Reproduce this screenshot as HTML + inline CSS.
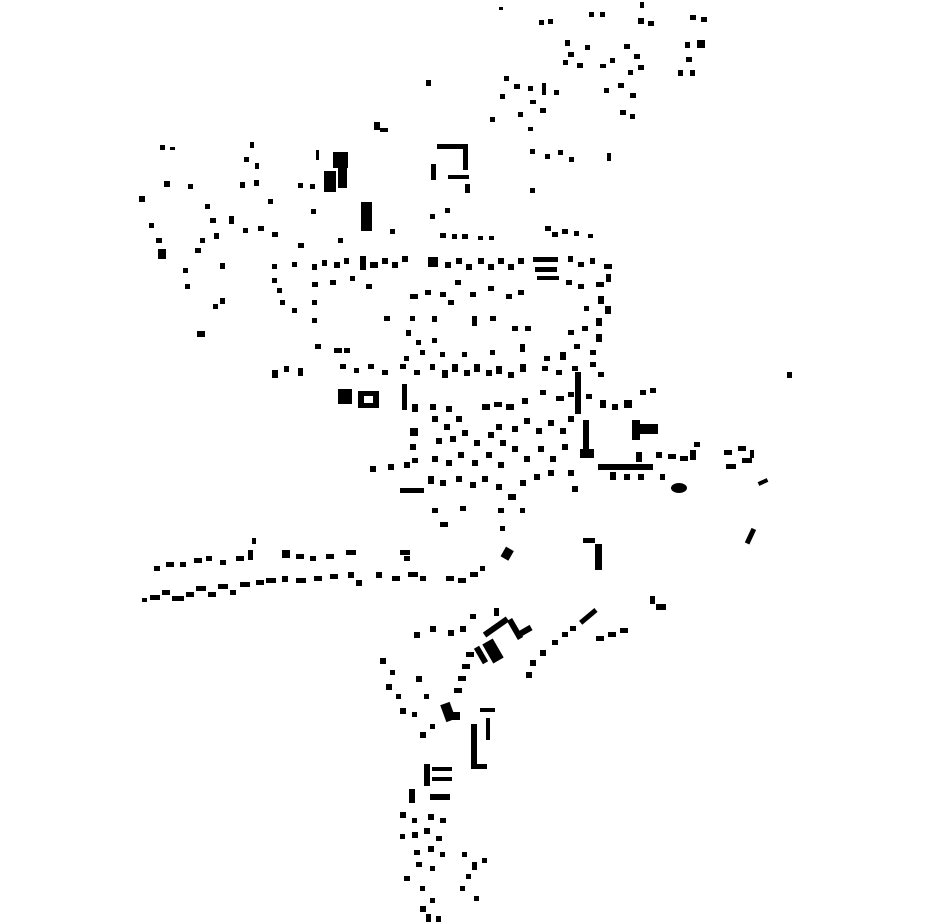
<!DOCTYPE html>
<html><head><meta charset="utf-8"><style>html,body{margin:0;padding:0;background:#fff}svg{display:block}</style></head>
<body>
<svg width="930" height="924" viewBox="0 0 930 924" xmlns="http://www.w3.org/2000/svg">
<rect width="930" height="924" fill="#fff"/>
<g fill="#000">
<!-- top -->
<rect x="499" y="7" width="4" height="3"/><rect x="539" y="20" width="5" height="5"/><rect x="548" y="19" width="5" height="5"/>
<rect x="589" y="12" width="5" height="5"/><rect x="600" y="12" width="5" height="5"/>
<rect x="640" y="2" width="4" height="6"/><rect x="638" y="18" width="6" height="6"/><rect x="648" y="21" width="6" height="5"/>
<rect x="690" y="15" width="6" height="5"/><rect x="701" y="17" width="6" height="5"/>
<rect x="565" y="40" width="5" height="6"/><rect x="568" y="52" width="6" height="5"/><rect x="563" y="60" width="5" height="5"/><rect x="577" y="63" width="6" height="5"/>
<rect x="585" y="45" width="5" height="5"/><rect x="600" y="64" width="6" height="4"/><rect x="610" y="58" width="5" height="5"/>
<rect x="624" y="44" width="6" height="5"/><rect x="634" y="54" width="6" height="5"/><rect x="638" y="65" width="6" height="5"/><rect x="628" y="70" width="5" height="5"/>
<rect x="685" y="42" width="5" height="6"/><rect x="697" y="40" width="8" height="8"/><rect x="686" y="57" width="6" height="5"/><rect x="678" y="70" width="5" height="6"/><rect x="690" y="70" width="5" height="6"/>
<rect x="426" y="80" width="5" height="6"/>
<rect x="504" y="76" width="5" height="5"/><rect x="514" y="84" width="6" height="5"/><rect x="500" y="94" width="5" height="5"/><rect x="528" y="86" width="5" height="5"/>
<rect x="542" y="83" width="4" height="12"/><rect x="554" y="90" width="5" height="5"/><rect x="530" y="100" width="6" height="4"/><rect x="540" y="108" width="6" height="5"/>
<rect x="518" y="112" width="5" height="5"/><rect x="490" y="117" width="5" height="5"/><rect x="528" y="127" width="5" height="4"/>
<rect x="604" y="88" width="5" height="5"/><rect x="618" y="83" width="6" height="5"/><rect x="630" y="93" width="6" height="5"/><rect x="620" y="110" width="6" height="5"/><rect x="630" y="114" width="5" height="5"/>
<rect x="374" y="122" width="6" height="8"/><rect x="380" y="128" width="8" height="4"/>
<!-- upper left -->
<rect x="160" y="145" width="5" height="5"/><rect x="170" y="147" width="5" height="3"/>
<rect x="250" y="142" width="4" height="6"/><rect x="244" y="157" width="5" height="5"/><rect x="255" y="163" width="4" height="6"/><rect x="240" y="182" width="5" height="6"/><rect x="254" y="180" width="5" height="6"/>
<rect x="333" y="152" width="15" height="16"/><rect x="324" y="171" width="12" height="21"/><rect x="338" y="168" width="9" height="20"/><rect x="316" y="150" width="3" height="10"/>
<rect x="437" y="144" width="30" height="5"/><rect x="463" y="144" width="5" height="26"/><rect x="431" y="164" width="5" height="16"/><rect x="448" y="175" width="21" height="4"/><rect x="465" y="184" width="5" height="9"/>
<rect x="530" y="149" width="5" height="5"/><rect x="545" y="154" width="5" height="5"/><rect x="558" y="150" width="5" height="5"/><rect x="569" y="157" width="5" height="5"/><rect x="607" y="153" width="4" height="8"/>
<rect x="530" y="188" width="5" height="5"/>
<rect x="139" y="196" width="6" height="6"/><rect x="164" y="181" width="6" height="6"/><rect x="188" y="184" width="5" height="5"/><rect x="158" y="249" width="8" height="10"/><rect x="156" y="238" width="6" height="5"/><rect x="149" y="223" width="5" height="5"/>
<rect x="361" y="202" width="11" height="29"/>
<rect x="310" y="184" width="5" height="5"/><rect x="298" y="183" width="5" height="5"/><rect x="268" y="199" width="5" height="5"/><rect x="205" y="204" width="5" height="5"/>
<rect x="210" y="218" width="6" height="5"/><rect x="229" y="216" width="5" height="8"/><rect x="243" y="228" width="5" height="5"/><rect x="258" y="226" width="6" height="5"/><rect x="272" y="232" width="6" height="5"/>
<rect x="200" y="238" width="5" height="5"/><rect x="195" y="248" width="6" height="5"/><rect x="214" y="233" width="5" height="6"/><rect x="220" y="263" width="5" height="6"/>
<rect x="183" y="268" width="5" height="5"/><rect x="185" y="284" width="5" height="5"/><rect x="220" y="298" width="5" height="6"/><rect x="213" y="304" width="5" height="5"/><rect x="197" y="331" width="8" height="6"/>
<rect x="390" y="229" width="5" height="5"/><rect x="298" y="243" width="6" height="5"/><rect x="338" y="238" width="5" height="5"/><rect x="311" y="209" width="5" height="5"/>
<rect x="430" y="214" width="5" height="5"/><rect x="445" y="208" width="5" height="5"/><rect x="440" y="233" width="6" height="5"/><rect x="452" y="234" width="5" height="5"/><rect x="462" y="234" width="6" height="5"/><rect x="478" y="236" width="5" height="4"/><rect x="489" y="236" width="5" height="4"/>
<rect x="545" y="226" width="6" height="5"/><rect x="552" y="232" width="6" height="5"/><rect x="562" y="229" width="6" height="5"/><rect x="574" y="231" width="5" height="5"/><rect x="588" y="234" width="5" height="4"/>
<!-- band y 255-300 -->
<rect x="272" y="264" width="5" height="5"/><rect x="272" y="278" width="5" height="5"/><rect x="277" y="288" width="5" height="5"/><rect x="292" y="262" width="5" height="5"/><rect x="312" y="264" width="5" height="6"/>
<rect x="322" y="260" width="5" height="6"/><rect x="334" y="262" width="6" height="6"/><rect x="344" y="258" width="5" height="6"/><rect x="360" y="256" width="6" height="14"/><rect x="370" y="262" width="8" height="6"/>
<rect x="382" y="258" width="6" height="6"/><rect x="392" y="262" width="6" height="6"/><rect x="402" y="256" width="6" height="6"/><rect x="428" y="257" width="10" height="10"/>
<rect x="445" y="262" width="6" height="6"/><rect x="456" y="258" width="6" height="6"/><rect x="466" y="264" width="6" height="6"/><rect x="478" y="258" width="6" height="6"/><rect x="488" y="264" width="6" height="6"/>
<rect x="498" y="258" width="6" height="6"/><rect x="508" y="264" width="6" height="6"/><rect x="518" y="258" width="6" height="6"/>
<rect x="533" y="257" width="25" height="5"/><rect x="535" y="267" width="22" height="5"/><rect x="537" y="276" width="22" height="4"/>
<rect x="568" y="256" width="5" height="6"/><rect x="578" y="262" width="6" height="5"/><rect x="590" y="258" width="5" height="6"/><rect x="604" y="264" width="8" height="5"/>
<rect x="312" y="282" width="6" height="5"/><rect x="330" y="280" width="6" height="5"/><rect x="350" y="276" width="5" height="5"/><rect x="366" y="284" width="6" height="5"/>
<rect x="410" y="294" width="8" height="5"/><rect x="425" y="290" width="6" height="5"/><rect x="440" y="292" width="6" height="5"/><rect x="455" y="280" width="6" height="5"/>
<rect x="470" y="292" width="6" height="5"/><rect x="488" y="286" width="6" height="5"/><rect x="506" y="294" width="6" height="5"/><rect x="518" y="290" width="6" height="5"/>
<rect x="566" y="280" width="6" height="5"/><rect x="578" y="284" width="6" height="5"/><rect x="596" y="282" width="8" height="5"/><rect x="606" y="274" width="5" height="8"/>
<rect x="280" y="300" width="5" height="5"/><rect x="292" y="308" width="5" height="5"/><rect x="312" y="300" width="5" height="5"/><rect x="312" y="318" width="5" height="5"/>
<rect x="384" y="316" width="6" height="5"/><rect x="410" y="316" width="5" height="5"/><rect x="432" y="316" width="5" height="6"/><rect x="448" y="300" width="6" height="5"/>
<rect x="472" y="316" width="5" height="10"/><rect x="490" y="316" width="6" height="5"/><rect x="512" y="326" width="6" height="5"/><rect x="525" y="326" width="6" height="5"/>
<rect x="598" y="296" width="6" height="8"/><rect x="605" y="306" width="6" height="8"/><rect x="596" y="318" width="6" height="8"/><rect x="584" y="306" width="5" height="5"/>
<rect x="568" y="330" width="6" height="5"/><rect x="582" y="326" width="6" height="5"/><rect x="596" y="334" width="6" height="8"/><rect x="574" y="344" width="6" height="5"/><rect x="590" y="350" width="6" height="5"/>
<rect x="406" y="330" width="5" height="6"/><rect x="416" y="340" width="5" height="5"/><rect x="432" y="338" width="5" height="5"/><rect x="420" y="350" width="5" height="5"/>
<rect x="315" y="344" width="6" height="5"/><rect x="334" y="348" width="8" height="5"/><rect x="344" y="348" width="6" height="5"/>
<rect x="404" y="356" width="5" height="5"/><rect x="440" y="352" width="5" height="5"/><rect x="462" y="352" width="5" height="5"/><rect x="490" y="350" width="5" height="5"/><rect x="520" y="344" width="5" height="8"/><rect x="544" y="356" width="6" height="5"/><rect x="560" y="352" width="6" height="8"/>
<!-- y 360-380 row -->
<rect x="272" y="370" width="6" height="8"/><rect x="284" y="366" width="5" height="6"/><rect x="298" y="368" width="5" height="8"/>
<rect x="340" y="364" width="6" height="5"/><rect x="354" y="368" width="5" height="5"/><rect x="368" y="364" width="6" height="5"/><rect x="382" y="370" width="6" height="5"/>
<rect x="400" y="364" width="6" height="5"/><rect x="414" y="370" width="6" height="5"/><rect x="430" y="364" width="5" height="6"/><rect x="442" y="370" width="6" height="8"/><rect x="452" y="364" width="6" height="8"/>
<rect x="464" y="370" width="6" height="6"/><rect x="474" y="364" width="6" height="8"/><rect x="486" y="370" width="6" height="6"/><rect x="496" y="366" width="6" height="8"/><rect x="508" y="372" width="6" height="6"/><rect x="520" y="364" width="6" height="8"/>
<rect x="542" y="366" width="6" height="5"/><rect x="556" y="370" width="6" height="5"/><rect x="572" y="366" width="6" height="5"/><rect x="590" y="362" width="6" height="5"/><rect x="598" y="372" width="6" height="5"/>
<rect x="575" y="372" width="6" height="42"/>
<rect x="338" y="389" width="14" height="15"/>
<path d="M358 391h21v17h-21zM364 396v7h9v-7z" fill-rule="evenodd"/>
<rect x="402" y="384" width="5" height="26"/>
<!-- dense center -->
<rect x="412" y="404" width="6" height="8"/><rect x="430" y="404" width="6" height="6"/><rect x="446" y="406" width="6" height="6"/><rect x="482" y="404" width="8" height="6"/><rect x="494" y="402" width="8" height="5"/><rect x="506" y="404" width="8" height="6"/>
<rect x="522" y="398" width="6" height="6"/><rect x="540" y="390" width="6" height="5"/><rect x="556" y="396" width="8" height="5"/><rect x="568" y="392" width="6" height="5"/><rect x="586" y="394" width="6" height="5"/>
<rect x="600" y="400" width="6" height="8"/><rect x="612" y="404" width="6" height="6"/><rect x="624" y="400" width="8" height="8"/><rect x="640" y="390" width="6" height="5"/><rect x="650" y="388" width="6" height="5"/>
<rect x="410" y="428" width="8" height="8"/><rect x="410" y="444" width="6" height="6"/><rect x="412" y="458" width="6" height="5"/>
<rect x="432" y="416" width="6" height="6"/><rect x="444" y="424" width="6" height="6"/><rect x="456" y="416" width="6" height="6"/><rect x="436" y="438" width="6" height="6"/><rect x="450" y="436" width="6" height="6"/>
<rect x="462" y="430" width="6" height="6"/><rect x="474" y="440" width="6" height="6"/><rect x="488" y="432" width="6" height="6"/><rect x="500" y="440" width="6" height="6"/><rect x="496" y="424" width="6" height="6"/>
<rect x="512" y="426" width="6" height="6"/><rect x="524" y="418" width="6" height="6"/><rect x="536" y="428" width="6" height="6"/><rect x="548" y="420" width="6" height="6"/><rect x="560" y="428" width="6" height="6"/><rect x="568" y="416" width="6" height="6"/>
<rect x="432" y="456" width="6" height="6"/><rect x="446" y="460" width="6" height="6"/><rect x="458" y="452" width="6" height="6"/><rect x="472" y="460" width="6" height="6"/><rect x="486" y="452" width="6" height="6"/><rect x="498" y="462" width="6" height="6"/>
<rect x="512" y="446" width="6" height="6"/><rect x="524" y="456" width="6" height="6"/><rect x="538" y="446" width="6" height="6"/><rect x="550" y="456" width="6" height="6"/><rect x="562" y="444" width="6" height="6"/>
<rect x="583" y="420" width="6" height="32"/><rect x="580" y="449" width="14" height="9"/>
<rect x="598" y="464" width="55" height="6"/>
<rect x="632" y="420" width="8" height="20"/><rect x="640" y="424" width="18" height="10"/><rect x="636" y="452" width="6" height="10"/>
<rect x="656" y="452" width="6" height="6"/><rect x="668" y="454" width="8" height="5"/><rect x="680" y="456" width="8" height="5"/><rect x="690" y="450" width="6" height="10"/><rect x="694" y="442" width="6" height="5"/>
<ellipse cx="679" cy="488" rx="8" ry="5"/>
<rect x="660" y="474" width="5" height="6"/><rect x="610" y="472" width="6" height="8"/><rect x="624" y="474" width="6" height="6"/><rect x="638" y="474" width="6" height="6"/>
<rect x="724" y="450" width="8" height="5"/><rect x="738" y="446" width="8" height="5"/><rect x="726" y="464" width="10" height="5"/><rect x="742" y="458" width="10" height="5"/><rect x="750" y="450" width="4" height="8"/>
<rect x="758" y="480" width="10" height="4" transform="rotate(-25 763 482)"/>
<rect x="787" y="372" width="5" height="6"/>
<rect x="370" y="466" width="6" height="6"/><rect x="388" y="464" width="6" height="6"/><rect x="404" y="462" width="6" height="6"/>
<rect x="400" y="488" width="24" height="5"/><rect x="428" y="476" width="6" height="8"/><rect x="440" y="480" width="6" height="6"/>
<rect x="456" y="476" width="6" height="6"/><rect x="470" y="482" width="6" height="6"/><rect x="482" y="476" width="6" height="6"/><rect x="496" y="484" width="6" height="6"/><rect x="508" y="494" width="8" height="6"/>
<rect x="520" y="480" width="6" height="6"/><rect x="534" y="474" width="6" height="6"/><rect x="548" y="470" width="6" height="6"/><rect x="568" y="470" width="6" height="6"/><rect x="572" y="486" width="6" height="6"/>
<rect x="432" y="508" width="6" height="5"/><rect x="440" y="522" width="8" height="5"/><rect x="460" y="506" width="6" height="5"/><rect x="498" y="508" width="6" height="5"/><rect x="500" y="526" width="5" height="5"/><rect x="520" y="508" width="5" height="5"/>
<!-- right lower -->
<rect x="748" y="528" width="5" height="16" transform="rotate(25 750 536)"/>
<rect x="503" y="548" width="9" height="11" transform="rotate(30 507 553)"/>
<rect x="583" y="538" width="12" height="5"/><rect x="595" y="544" width="7" height="26"/>
<!-- west strip -->
<rect x="142" y="598" width="5" height="4"/><rect x="150" y="595" width="10" height="5"/><rect x="162" y="590" width="8" height="5"/><rect x="172" y="596" width="12" height="5"/><rect x="186" y="592" width="8" height="5"/>
<rect x="196" y="586" width="10" height="5"/><rect x="208" y="592" width="8" height="5"/><rect x="218" y="584" width="10" height="5"/><rect x="230" y="590" width="6" height="5"/><rect x="240" y="582" width="10" height="5"/>
<rect x="256" y="580" width="8" height="5"/><rect x="266" y="578" width="10" height="5"/><rect x="282" y="576" width="6" height="6"/><rect x="296" y="578" width="10" height="5"/><rect x="314" y="576" width="8" height="5"/>
<rect x="330" y="574" width="8" height="5"/><rect x="348" y="572" width="6" height="6"/><rect x="356" y="580" width="6" height="6"/><rect x="376" y="572" width="6" height="6"/><rect x="392" y="576" width="8" height="5"/>
<rect x="408" y="572" width="10" height="5"/><rect x="420" y="576" width="6" height="5"/><rect x="446" y="576" width="8" height="5"/><rect x="458" y="578" width="8" height="5"/><rect x="470" y="572" width="8" height="5"/><rect x="480" y="566" width="5" height="5"/>
<rect x="154" y="566" width="6" height="5"/><rect x="166" y="562" width="8" height="5"/><rect x="180" y="562" width="6" height="5"/><rect x="194" y="558" width="8" height="5"/><rect x="206" y="556" width="6" height="5"/><rect x="220" y="560" width="6" height="5"/>
<rect x="236" y="556" width="8" height="5"/><rect x="248" y="550" width="5" height="10"/><rect x="252" y="538" width="4" height="6"/><rect x="282" y="550" width="8" height="8"/><rect x="296" y="554" width="8" height="5"/><rect x="310" y="556" width="6" height="5"/>
<rect x="326" y="554" width="8" height="5"/><rect x="346" y="550" width="10" height="5"/><rect x="400" y="550" width="10" height="5"/><rect x="404" y="556" width="6" height="5"/>
<!-- south -->
<rect x="650" y="596" width="5" height="8"/><rect x="656" y="604" width="10" height="6"/>
<rect x="482" y="624" width="28" height="6" transform="rotate(-35 496 627)"/>
<rect x="512" y="618" width="6" height="22" transform="rotate(-30 515 629)"/><rect x="518" y="628" width="14" height="6" transform="rotate(-30 525 631)"/>
<rect x="487" y="640" width="12" height="22" transform="rotate(-30 493 651)"/><rect x="478" y="646" width="6" height="18" transform="rotate(-30 481 655)"/>
<rect x="494" y="608" width="5" height="8"/><rect x="470" y="614" width="6" height="5"/><rect x="460" y="626" width="6" height="6"/><rect x="448" y="630" width="6" height="6"/><rect x="430" y="626" width="6" height="6"/><rect x="414" y="632" width="6" height="6"/>
<rect x="466" y="652" width="8" height="5"/><rect x="462" y="664" width="8" height="5"/><rect x="458" y="676" width="8" height="5"/><rect x="454" y="688" width="8" height="5"/>
<rect x="530" y="660" width="6" height="6"/><rect x="540" y="650" width="6" height="6"/><rect x="526" y="672" width="6" height="6"/><rect x="552" y="640" width="6" height="5"/><rect x="562" y="632" width="6" height="5"/><rect x="570" y="626" width="6" height="5"/>
<rect x="578" y="614" width="20" height="5" transform="rotate(-40 588 616)"/><rect x="596" y="636" width="8" height="5"/><rect x="608" y="632" width="8" height="5"/><rect x="620" y="628" width="8" height="5"/>
<rect x="380" y="658" width="6" height="6"/><rect x="390" y="670" width="5" height="5"/><rect x="386" y="684" width="6" height="6"/><rect x="396" y="694" width="5" height="5"/><rect x="400" y="708" width="6" height="6"/><rect x="412" y="712" width="5" height="5"/><rect x="420" y="732" width="6" height="6"/><rect x="430" y="724" width="5" height="5"/><rect x="416" y="676" width="6" height="6"/><rect x="424" y="694" width="5" height="5"/>
<rect x="443" y="703" width="10" height="18" transform="rotate(-20 448 712)"/><rect x="452" y="712" width="8" height="8"/>
<rect x="480" y="708" width="15" height="4"/><rect x="486" y="718" width="4" height="22"/><rect x="471" y="724" width="6" height="44"/><rect x="471" y="764" width="16" height="5"/>
<rect x="424" y="764" width="6" height="22"/><rect x="432" y="767" width="20" height="4"/><rect x="432" y="777" width="20" height="4"/><rect x="430" y="794" width="20" height="6"/><rect x="409" y="789" width="6" height="14"/>
<rect x="400" y="812" width="6" height="6"/><rect x="412" y="818" width="5" height="5"/><rect x="428" y="814" width="6" height="6"/><rect x="440" y="818" width="6" height="5"/>
<rect x="400" y="834" width="5" height="5"/><rect x="412" y="832" width="6" height="6"/><rect x="424" y="828" width="6" height="6"/><rect x="436" y="836" width="6" height="5"/>
<rect x="414" y="850" width="6" height="5"/><rect x="428" y="846" width="6" height="6"/><rect x="440" y="852" width="5" height="5"/><rect x="416" y="862" width="6" height="5"/><rect x="430" y="866" width="5" height="5"/>
<rect x="462" y="852" width="5" height="5"/><rect x="472" y="862" width="5" height="8"/><rect x="482" y="858" width="5" height="5"/><rect x="466" y="874" width="5" height="5"/><rect x="460" y="886" width="5" height="5"/><rect x="474" y="896" width="5" height="5"/>
<rect x="404" y="876" width="6" height="5"/><rect x="420" y="886" width="5" height="5"/><rect x="430" y="898" width="5" height="5"/><rect x="420" y="906" width="6" height="6"/><rect x="426" y="914" width="5" height="8"/><rect x="436" y="916" width="5" height="6"/>
</g>
</svg>
</body></html>
